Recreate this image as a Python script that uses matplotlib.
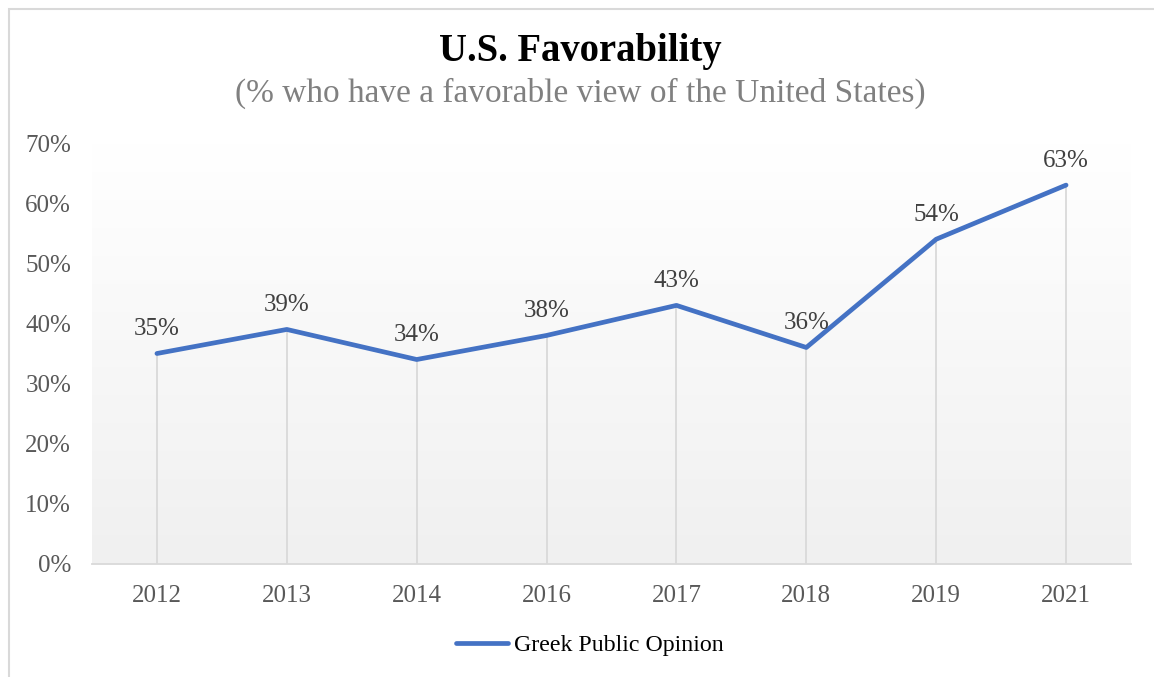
import numpy as np
import matplotlib.pyplot as plt
from matplotlib.patches import Rectangle

years = ['2012', '2013', '2014', '2016', '2017', '2018', '2019', '2021']
favorable = [35, 39, 34, 38, 43, 36, 54, 63]
yticks = [0, 10, 20, 30, 40, 50, 60, 70]

plt.rcParams['font.family'] = ['Liberation Serif', 'DejaVu Serif']

fig = plt.figure(figsize=(11.54, 6.77), dpi=100)
ax = fig.add_axes([92 / 1154, 1 - 564 / 677, (1131 - 92) / 1154, (564 - 143) / 677])

x = np.arange(len(years))

# gradient background of the plot area (white at top, light grey at bottom)
grad = np.linspace(1.0, 0.0, 256).reshape(-1, 1)
ax.imshow(grad, extent=[0, 1, 0, 1], transform=ax.transAxes, aspect='auto',
          cmap=plt.matplotlib.colors.LinearSegmentedColormap.from_list(
              'bg', ['#f0f0f0', '#ffffff']), origin='upper', zorder=0)

# drop lines
ax.vlines(x, 0, favorable, colors='#d9d9d9', linewidth=1.3, zorder=1)
ax.plot(x, favorable, color='#4472c4', linewidth=3.4, solid_capstyle='round',
        solid_joinstyle='round', label='Greek Public Opinion', zorder=3)

for xi, v in zip(x, favorable):
    ax.annotate(f'{v}%', (xi, v), xytext=(0, 9.5), textcoords='offset points',
                ha='center', va='bottom', fontsize=18, color='#404040')

ax.set_xlim(-0.5, len(years) - 0.5)
ax.set_ylim(0, 70)
ax.set_xticks(x)
ax.set_xticklabels(years)
ax.set_yticks(yticks)
ax.set_yticklabels([f'{t}%' for t in yticks])
ax.tick_params(axis='both', length=0, labelsize=18, labelcolor='#595959')
ax.tick_params(axis='y', pad=15)
ax.tick_params(axis='x', pad=15)
for side in ['top', 'right', 'left']:
    ax.spines[side].set_visible(False)
ax.spines['bottom'].set_color('#d9d9d9')
ax.spines['bottom'].set_linewidth(1.3)
ax.spines['bottom'].set_zorder(2)

fig.text(0.503, 1 - 51 / 677, 'U.S. Favorability', ha='center', va='center',
         fontsize=27.8, fontweight='bold', color='black')
fig.text(0.503, 1 - 93 / 677, '(% who have a favorable view of the United States)',
         ha='center', va='center', fontsize=24, color='#808080')

leg = fig.legend(loc='center', bbox_to_anchor=(0.511, 1 - 645 / 677), frameon=False,
                 fontsize=17.2, handlelength=2.2, handletextpad=0.25)
for t in leg.get_texts():
    t.set_color('black')

# outer chart border
fig.patches.append(Rectangle((9 / 1154, -0.05), 1.1, 1.05 - 9 / 677,
                             transform=fig.transFigure, fill=False,
                             edgecolor='#d9d9d9', linewidth=1.5))

fig.savefig('out.png', dpi=100)
